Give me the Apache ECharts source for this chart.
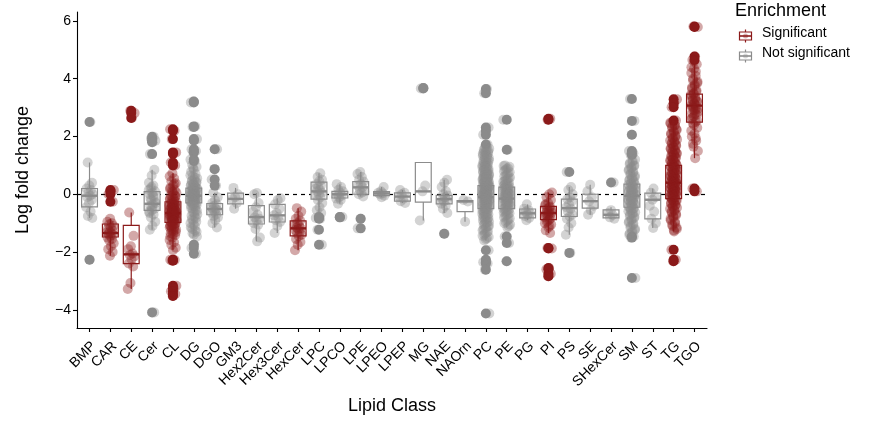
<!DOCTYPE html>
<html>
<head>
<meta charset="utf-8">
<script src="https://cdn.jsdelivr.net/npm/echarts@6/dist/echarts.min.js"></script>
<style>
  html, body { margin: 0; padding: 0; background: #fff; }
  #chart { width: 881px; height: 423px; }
</style>
</head>
<body>
<div id="chart"></div>
<script>
var lipidClasses = ['BMP', 'CAR', 'CE', 'Cer', 'CL', 'DG', 'DGO', 'GM3', 'Hex2Cer', 'Hex3Cer',
    'HexCer', 'LPC', 'LPCO', 'LPE', 'LPEO', 'LPEP', 'MG', 'NAE', 'NAOrn', 'PC',
    'PE', 'PG', 'PI', 'PS', 'SE', 'SHexCer', 'SM', 'ST', 'TG', 'TGO'];

// 1 = Significant, 0 = Not significant
var significant = [0, 1, 1, 0, 1, 0, 0, 0, 0, 0,
    1, 0, 0, 0, 0, 0, 0, 0, 0, 0,
    0, 0, 1, 0, 0, 0, 0, 0, 1, 1];

// [lower whisker, Q1, median, Q3, upper whisker]
var boxStats = [
    [-0.82, -0.44, -0.05, 0.2, 1.1],
    [-2.13, -1.48, -1.34, -1.03, -0.85],
    [-3.28, -2.4, -2.08, -1.08, -0.63],
    [-1.23, -0.56, -0.33, 0.09, 0.85],
    [-1.94, -0.97, -0.65, -0.26, 0.73],
    [-1.46, -0.3, -0.05, 0.21, 1.02],
    [-1.15, -0.71, -0.51, -0.32, 0.05],
    [-0.5, -0.33, -0.16, 0.04, 0.22],
    [-1.63, -1.03, -0.79, -0.39, 0.04],
    [-1.34, -0.96, -0.73, -0.35, -0.14],
    [-1.94, -1.44, -1.18, -0.92, -0.48],
    [-0.65, -0.17, 0.1, 0.42, 0.73],
    [-0.33, -0.13, 0.0, 0.1, 0.35],
    [-0.08, 0.0, 0.24, 0.44, 0.77],
    [-0.1, -0.05, 0.03, 0.09, 0.25],
    [-0.3, -0.24, -0.08, 0.05, 0.15],
    [-0.91, -0.27, 0.1, 1.1, 1.1],
    [-0.65, -0.33, -0.17, -0.04, 0.5],
    [-0.95, -0.6, -0.25, -0.22, -0.2],
    [-1.6, -0.5, -0.1, 0.3, 1.62],
    [-1.15, -0.5, -0.15, 0.25, 1.0],
    [-0.9, -0.82, -0.66, -0.51, -0.35],
    [-1.34, -0.88, -0.65, -0.42, 0.06],
    [-1.4, -0.77, -0.48, -0.17, 0.25],
    [-0.71, -0.48, -0.24, 0.0, 0.33],
    [-0.85, -0.82, -0.71, -0.54, -0.45],
    [-1.4, -0.45, -0.05, 0.35, 1.2],
    [-1.17, -0.85, -0.19, 0.04, 0.2],
    [-1.29, -0.15, 0.4, 1.0, 2.52],
    [1.25, 2.5, 3.07, 3.47, 4.6]
];

// log fold change of every lipid, per class
var classPoints = [
    [2.5, 1.1, 0.4, 0.3, 0.2, 0.15, 0.05, 0, -0.05, -0.1, -0.2, -0.3, -0.45, -0.6, -0.75, -0.82, -2.27],
    [0.15, 0.1, 0.0, -0.26, -0.85, -0.95, -1.0, -1.05, -1.1, -1.15, -1.2, -1.25, -1.3, -1.32, -1.35, -1.38, -1.4, -1.45, -1.5, -1.55, -1.6, -1.7, -1.8, -1.9, -2.0, -2.13],
    [2.89, 2.81, 2.64, -0.63, -1.44, -1.8, -1.9, -2.05, -2.1, -2.15, -2.25, -2.4, -2.5, -3.07, -3.28],
    [1.99, 1.93, 1.85, 1.8, 1.39, 0.85, 0.65, 0.4, 0.3, 0.2, 0.1, 0.05, 0, -0.1, -0.2, -0.3, -0.35, -0.4, -0.5, -0.55, -0.6, -0.7, -0.8, -0.95, -1.1, -1.23, -4.09,
        0.25, 0.15, -0.05, -0.15, -0.25, -0.45, -0.65],
    [2.25, 2.2, 1.91, 1.45, 1.4, 1.1, 1.0, 0.73, 0.62, 0.55, 0.45, 0.38, 0.3, 0.22, 0.15, 0.12, 0.05, 0.0, -0.04, -0.08, -0.12, -0.15, -0.2, -0.24, -0.26, -0.3, -0.32, -0.35, -0.38, -0.4, -0.43, -0.45, -0.47, -0.5, -0.52, -0.55, -0.57, -0.6, -0.62, -0.63, -0.65, -0.67, -0.7, -0.72, -0.74, -0.77, -0.8, -0.82, -0.85, -0.88, -0.9, -0.93, -0.97, -1.0, -1.04, -1.08, -1.12, -1.17, -1.22, -1.28, -1.35, -1.42, -1.5, -1.58, -1.66, -1.75, -1.85, -1.94, -2.27, -2.28, -2.3, -3.17, -3.25, -3.36, -3.45, -3.52,
        -0.18, -0.27, -0.33, -0.41, -0.44, -0.49, -0.53, -0.58, -0.61, -0.64, -0.66, -0.69, -0.71, -0.76, -0.79, -0.84, -0.87, -0.91, -0.95, -1.02, -1.06, -1.14, -1.19, -1.25, -1.31, -1.38, -1.46, -0.36, -0.56, -0.68, -0.73, -0.81, -0.06, 0.08, 0.18, 0.35, -0.48, -0.59, -0.92, -1.1],
    [3.21, 3.18, 2.35, 2.33, 1.91, 1.86, 1.56, 1.5, 1.45, 1.2, 1.15, 1.02, 0.95, 0.85, 0.78, 0.7, 0.62, 0.55, 0.5, 0.45, 0.4, 0.35, 0.3, 0.27, 0.24, 0.21, 0.18, 0.15, 0.12, 0.1, 0.07, 0.05, 0.02, 0.0, -0.02, -0.05, -0.07, -0.1, -0.12, -0.15, -0.18, -0.2, -0.23, -0.26, -0.3, -0.33, -0.37, -0.42, -0.48, -0.55, -0.62, -0.7, -0.78, -0.86, -0.95, -1.05, -1.15, -1.25, -1.35, -1.46, -1.75, -1.86, -2.06,
        0.92, 0.66, 0.58, 0.48, 0.42, 0.37, 0.33, 0.26, 0.22, 0.19, 0.16, 0.13, 0.09, 0.04, 0.01, -0.01, -0.04, -0.08, -0.11, -0.14, -0.17, -0.19, -0.22, -0.25, -0.28, -0.31, -0.35, -0.39, -0.45, -0.51, -0.58, -0.66, -0.74, -0.82, -0.9, -1.0, -1.1, -1.2, -1.3, -1.4],
    [1.56, 0.87, 0.51, 0.3, 0.05, -0.1, -0.2, -0.3, -0.35, -0.4, -0.45, -0.5, -0.52, -0.55, -0.6, -0.65, -0.7, -0.75, -0.8, -0.9, -1.0, -1.15],
    [0.22, 0.0, -0.1, -0.16, -0.3, -0.5],
    [0.04, 0.0, -0.3, -0.45, -0.6, -0.7, -0.8, -0.85, -0.9, -1.0, -1.05, -1.2, -1.5, -1.63],
    [-0.14, -0.2, -0.35, -0.5, -0.65, -0.73, -0.8, -0.9, -0.96, -1.1, -1.34],
    [-0.48, -0.6, -0.75, -0.85, -0.92, -1.0, -1.05, -1.1, -1.15, -1.18, -1.2, -1.25, -1.3, -1.35, -1.4, -1.45, -1.55, -1.65, -1.75, -1.94],
    [0.73, 0.6, 0.5, 0.45, 0.35, 0.3, 0.25, 0.2, 0.15, 0.1, 0.05, 0.0, -0.05, -0.1, -0.2, -0.3, -0.45, -0.55, -0.65, -0.79, -0.82, -0.85, -1.23, -1.75],
    [0.35, 0.25, 0.15, 0.1, 0.05, 0, -0.05, -0.1, -0.15, -0.2, -0.33, -0.79, -0.8],
    [0.77, 0.7, 0.6, 0.5, 0.44, 0.35, 0.3, 0.24, 0.15, 0.1, 0.05, 0.0, -0.08, -0.85, -1.18],
    [0.25, 0.1, 0.05, 0.03, 0.0, -0.05, -0.1],
    [0.15, 0.05, 0.0, -0.08, -0.15, -0.24, -0.3],
    [3.68, 3.66, 0.3, 0.1, -0.91],
    [0.5, 0.4, 0.25, 0.1, 0.0, -0.04, -0.1, -0.17, -0.2, -0.25, -0.33, -0.4, -0.5, -0.65, -1.37],
    [-0.2, -0.25, -0.95],
    [3.64, 3.5, 2.31, 2.2, 2.06, 1.72, 1.62, 1.58, 1.52, 1.47, 1.43, 1.38, 1.33, 1.28, 1.22, 1.18, 1.12, 1.08, 1.03, 0.98, 0.94, 0.9, 0.86, 0.82, 0.78, 0.75, 0.71, 0.68, 0.64, 0.61, 0.58, 0.55, 0.52, 0.49, 0.46, 0.43, 0.4, 0.38, 0.35, 0.33, 0.3, 0.28, 0.25, 0.23, 0.2, 0.18, 0.16, 0.13, 0.11, 0.08, 0.06, 0.03, 0.01, -0.02, -0.04, -0.06, -0.09, -0.11, -0.14, -0.16, -0.19, -0.21, -0.24, -0.27, -0.3, -0.33, -0.36, -0.39, -0.42, -0.45, -0.48, -0.52, -0.56, -0.6, -0.64, -0.68, -0.72, -0.77, -0.82, -0.87, -0.92, -0.97, -1.03, -1.09, -1.15, -1.22, -1.29, -1.36, -1.44, -1.52, -1.6, -1.94, -2.27, -2.35, -2.4, -2.61, -4.13,
        1.6, 1.55, 1.5, 1.45, 1.4, 1.35, 1.3, 1.25, 1.2, 1.15, 1.1, 1.05, 1.0, 0.96, 0.92, 0.88, 0.84, 0.8, 0.77, 0.73, 0.7, 0.66, 0.63, 0.6, 0.57, 0.54, 0.51, 0.48, 0.45, 0.42, 0.39, 0.36, 0.34, 0.31, 0.29, 0.26, 0.24, 0.21, 0.19, 0.17, 0.14, 0.12, 0.09, 0.07, 0.04, 0.02, 0.0, -0.01, -0.03, -0.05, -0.08, -0.1, -0.13, -0.15, -0.18, -0.2, -0.22, -0.25, -0.28, -0.31, -0.34, -0.37, -0.4, -0.44, -0.47, -0.5, -0.54, -0.58, -0.62, -0.66, -0.7, -0.75, -0.8, -0.85, -0.9, -0.95, -1.0, -1.06, -1.12, -1.18, -1.25, -1.32, -1.4, -1.48, -1.56],
    [2.58, 1.54, 1.0, 0.95, 0.88, 0.8, 0.72, 0.65, 0.58, 0.52, 0.46, 0.4, 0.35, 0.3, 0.26, 0.22, 0.18, 0.14, 0.1, 0.07, 0.04, 0.0, -0.03, -0.06, -0.1, -0.13, -0.16, -0.2, -0.24, -0.28, -0.32, -0.36, -0.4, -0.45, -0.5, -0.55, -0.6, -0.66, -0.72, -0.8, -0.88, -0.96, -1.05, -1.15, -1.46, -1.69, -2.32,
        0.98, 0.9, 0.84, 0.76, 0.68, 0.62, 0.55, 0.49, 0.43, 0.38, 0.33, 0.28, 0.24, 0.2, 0.16, 0.12, 0.08, 0.05, 0.02, -0.01, -0.05, -0.08, -0.11, -0.14, -0.18, -0.22, -0.26, -0.3, -0.34, -0.38, -0.43, -0.48, -0.53, -0.58, -0.63, -0.69, -0.76, -0.84, -0.92, -1.0, -1.1],
    [-0.35, -0.5, -0.55, -0.6, -0.66, -0.7, -0.75, -0.82, -0.9],
    [2.61, 2.58, 0.06, 0.0, -0.1, -0.2, -0.3, -0.35, -0.42, -0.5, -0.55, -0.6, -0.65, -0.7, -0.75, -0.8, -0.88, -0.95, -1.05, -1.15, -1.25, -1.34, -1.86, -1.88, -2.55, -2.6, -2.75, -2.84,
        -0.38, -0.46, -0.58, -0.62, -0.68, -0.72, -0.84, -0.92, -1.0, -1.1],
    [0.77, 0.25, 0.15, 0.0, -0.1, -0.17, -0.25, -0.35, -0.45, -0.5, -0.6, -0.7, -0.77, -0.85, -1.0, -1.15, -1.4, -2.03],
    [0.33, 0.1, -0.1, -0.24, -0.4, -0.55, -0.71],
    [0.41, -0.55, -0.65, -0.72, -0.8, -0.85],
    [3.3, 2.54, 2.06, 1.5, 1.42, 1.36, 1.2, 1.12, 1.05, 0.98, 0.9, 0.82, 0.75, 0.68, 0.6, 0.54, 0.48, 0.42, 0.37, 0.32, 0.27, 0.22, 0.18, 0.14, 0.1, 0.06, 0.02, -0.02, -0.05, -0.09, -0.13, -0.17, -0.21, -0.26, -0.3, -0.35, -0.4, -0.45, -0.5, -0.56, -0.62, -0.68, -0.75, -0.82, -0.9, -0.98, -1.06, -1.15, -1.24, -1.32, -1.4, -1.46, -1.5, -2.9,
        1.15, 1.08, 1.0, 0.94, 0.86, 0.78, 0.71, 0.64, 0.57, 0.51, 0.45, 0.39, 0.34, 0.29, 0.24, 0.2, 0.16, 0.12, 0.08, 0.04, 0.0, -0.03, -0.07, -0.11, -0.15, -0.19, -0.23, -0.28, -0.33, -0.38, -0.43, -0.48, -0.53, -0.59, -0.65, -0.71, -0.78, -0.86, -0.94, -1.02, -1.1, -1.2, -1.28, -1.36],
    [0.2, 0.05, -0.1, -0.19, -0.4, -0.6, -0.85, -1.0, -1.17],
    [3.29, 3.15, 3.01, 2.55, 2.52, 2.45, 2.38, 2.3, 2.22, 2.15, 2.08, 2.0, 1.93, 1.86, 1.8, 1.74, 1.68, 1.62, 1.56, 1.5, 1.45, 1.4, 1.35, 1.3, 1.25, 1.2, 1.15, 1.1, 1.06, 1.02, 0.98, 0.94, 0.9, 0.86, 0.82, 0.78, 0.74, 0.7, 0.66, 0.62, 0.58, 0.55, 0.51, 0.48, 0.44, 0.41, 0.38, 0.35, 0.32, 0.28, 0.25, 0.22, 0.18, 0.15, 0.12, 0.08, 0.05, 0.02, -0.02, -0.06, -0.1, -0.14, -0.18, -0.23, -0.28, -0.33, -0.38, -0.44, -0.5, -0.57, -0.64, -0.72, -0.8, -0.9, -1.0, -1.1, -1.2, -1.29, -1.92, -2.27, -2.32,
        2.48, 2.4, 2.33, 2.25, 2.18, 2.1, 2.03, 1.96, 1.9, 1.83, 1.77, 1.71, 1.65, 1.59, 1.53, 1.48, 1.43, 1.38, 1.33, 1.28, 1.23, 1.18, 1.13, 1.08, 1.04, 1.0, 0.96, 0.92, 0.88, 0.84, 0.8, 0.76, 0.72, 0.68, 0.64, 0.6, 0.56, 0.53, 0.5, 0.46, 0.43, 0.4, 0.36, 0.33, 0.3, 0.27, 0.23, 0.2, 0.17, 0.13, 0.1, 0.07, 0.03, 0.0, -0.04, -0.08, -0.12, -0.16, -0.2, -0.25, -0.3, -0.36, -0.41, -0.47, -0.54, -0.6, -0.68, -0.76, -0.85, -0.95, -1.05, -1.15, -1.25],
    [5.81, 5.79, 4.77, 4.65, 4.5, 4.35, 4.2, 4.1, 3.95, 3.85, 3.75, 3.65, 3.55, 3.47, 3.4, 3.3, 3.25, 3.2, 3.15, 3.1, 3.07, 3.0, 2.95, 2.9, 2.8, 2.75, 2.7, 2.6, 2.5, 2.45, 2.3, 2.1, 2.0, 1.85, 1.65, 1.5, 1.25, 0.2, 0.1,
        4.6, 4.4, 4.25, 4.0, 3.9, 3.8, 3.7, 3.6, 3.5, 3.45, 3.35, 3.28, 3.22, 3.12, 3.05, 2.98, 2.92, 2.85, 2.78, 2.65, 2.55, 2.4, 2.2, 1.95, 1.75]
];

var yTicks = [-4, -2, 0, 2, 4, 6];

var RED = '#8B1A1A';
var GREY = '#8C8C8C';
var FONT = 'Liberation Sans';

var classIdx = lipidClasses.map(function (c, i) { return i; });
// labels hang from the tick by their top-right corner, like ggplot hjust = vjust = 1
var labelPos = classIdx.map(function (i) { return i + 0.2; });

// boxes
var boxData = boxStats.map(function (b, i) {
    return [i, b[0], b[1], b[2], b[3], b[4], significant[i]];
});

// jittered points + boxplot outliers
var jitterData = [];
var outlierData = [];
classPoints.forEach(function (pts, i) {
    var b = boxStats[i];
    pts.forEach(function (v, k) {
        var j = ((k + 1) * 0.6180339887 + i * 0.37) % 1;
        jitterData.push([i + (j - 0.5) * 0.34, v, i]);
        if (v < b[0] - 1e-6 || v > b[4] + 1e-6) {
            outlierData.push([i, v, i]);
        }
    });
});

function pointColor(p) {
    return significant[p.data[2]] ? RED : GREY;
}

var chart = echarts.init(document.getElementById('chart'));

chart.setOption({
    animation: false,
    textStyle: { fontFamily: FONT },
    grid: { left: 77, right: 174, top: 12, bottom: 95 },
    xAxis: {
        type: 'value',
        min: -0.6,
        max: 29.6,
        name: 'Lipid Class',
        nameLocation: 'middle',
        nameGap: 69,
        nameTextStyle: { fontSize: 18, color: '#000', fontFamily: FONT },
        splitLine: { show: false },
        axisLine: { onZero: false, lineStyle: { color: '#000', width: 1.1 } },
        axisTick: { customValues: classIdx, length: 4, lineStyle: { color: '#000', width: 1.1 } },
        axisLabel: {
            customValues: labelPos,
            rotate: 45,
            margin: 16,
            fontSize: 14,
            color: '#000',
            fontFamily: FONT,
            formatter: function (v) { return lipidClasses[Math.round(v)]; }
        }
    },
    yAxis: {
        type: 'value',
        min: -4.63,
        max: 6.31,
        name: 'Log fold change',
        nameLocation: 'middle',
        nameGap: 45,
        nameTextStyle: { fontSize: 18, color: '#000', fontFamily: FONT },
        splitLine: { show: false },
        axisLine: { show: true, onZero: false, lineStyle: { color: '#000', width: 1.1 } },
        axisTick: { show: true, customValues: yTicks, length: 4, lineStyle: { color: '#000', width: 1.1 } },
        axisLabel: {
            customValues: yTicks,
            margin: 6,
            fontSize: 14,
            color: '#000',
            fontFamily: FONT,
            formatter: function (v) { return String(v).replace('-', '\u2212'); }
        }
    },
    series: [
        {
            type: 'custom',
            z: 2,
            data: boxData,
            renderItem: function (params, api) {
                var x = api.value(0);
                var lo = api.coord([x, api.value(1)]);
                var q1 = api.coord([x, api.value(2)]);
                var md = api.coord([x, api.value(3)]);
                var q3 = api.coord([x, api.value(4)]);
                var hi = api.coord([x, api.value(5)]);
                var half = api.size([0.76, 0])[0] / 2;
                var col = api.value(6) ? RED : GREY;
                var st = { stroke: col, lineWidth: 1.2, fill: null };
                return {
                    type: 'group',
                    children: [
                        { type: 'line', shape: { x1: lo[0], y1: lo[1], x2: q1[0], y2: q1[1] }, style: st },
                        { type: 'line', shape: { x1: q3[0], y1: q3[1], x2: hi[0], y2: hi[1] }, style: st },
                        { type: 'rect', shape: { x: q3[0] - half, y: q3[1], width: half * 2, height: q1[1] - q3[1] },
                          style: { stroke: col, lineWidth: 1.2, fill: '#fff' } },
                        { type: 'line', shape: { x1: md[0] - half, y1: md[1], x2: md[0] + half, y2: md[1] },
                          style: { stroke: col, lineWidth: 2.4 } }
                    ]
                };
            },
            markLine: {
                silent: true,
                symbol: 'none',
                z: 1,
                label: { show: false },
                lineStyle: { color: '#000', type: [4, 4], width: 1.2 },
                data: [{ yAxis: 0 }]
            }
        },
        {
            type: 'scatter',
            z: 3,
            symbolSize: 10,
            data: outlierData,
            itemStyle: { color: pointColor, opacity: 1 }
        },
        {
            type: 'scatter',
            z: 4,
            symbolSize: 10,
            data: jitterData,
            itemStyle: { color: pointColor, opacity: 0.38 }
        }
    ],
    graphic: [
        { type: 'text', left: 735, top: 2, style: { text: 'Enrichment', fontSize: 18, fill: '#000', fontFamily: FONT } },
        { type: 'group', left: 737, top: 27, children: [
            { type: 'line', shape: { x1: 6, y1: 0, x2: 6, y2: 13 }, style: { stroke: RED, lineWidth: 1.2 } },
            { type: 'rect', shape: { x: 0, y: 2.5, width: 12, height: 8 }, style: { stroke: RED, fill: '#fff', lineWidth: 1.2 } },
            { type: 'line', shape: { x1: 0, y1: 6.5, x2: 12, y2: 6.5 }, style: { stroke: RED, lineWidth: 1.6 } },
            { type: 'circle', shape: { cx: 6, cy: 6.5, r: 2.5 }, style: { fill: RED, opacity: 0.35 } }
        ] },
        { type: 'text', left: 762, top: 26, style: { text: 'Significant', fontSize: 14, fill: '#000', fontFamily: FONT } },
        { type: 'group', left: 737, top: 47, children: [
            { type: 'line', shape: { x1: 6, y1: 0, x2: 6, y2: 13 }, style: { stroke: GREY, lineWidth: 1.2 } },
            { type: 'rect', shape: { x: 0, y: 2.5, width: 12, height: 8 }, style: { stroke: GREY, fill: '#fff', lineWidth: 1.2 } },
            { type: 'line', shape: { x1: 0, y1: 6.5, x2: 12, y2: 6.5 }, style: { stroke: GREY, lineWidth: 1.6 } },
            { type: 'circle', shape: { cx: 6, cy: 6.5, r: 2.5 }, style: { fill: GREY, opacity: 0.35 } }
        ] },
        { type: 'text', left: 762, top: 46, style: { text: 'Not significant', fontSize: 14, fill: '#000', fontFamily: FONT } }
    ]
});
</script>
</body>
</html>
